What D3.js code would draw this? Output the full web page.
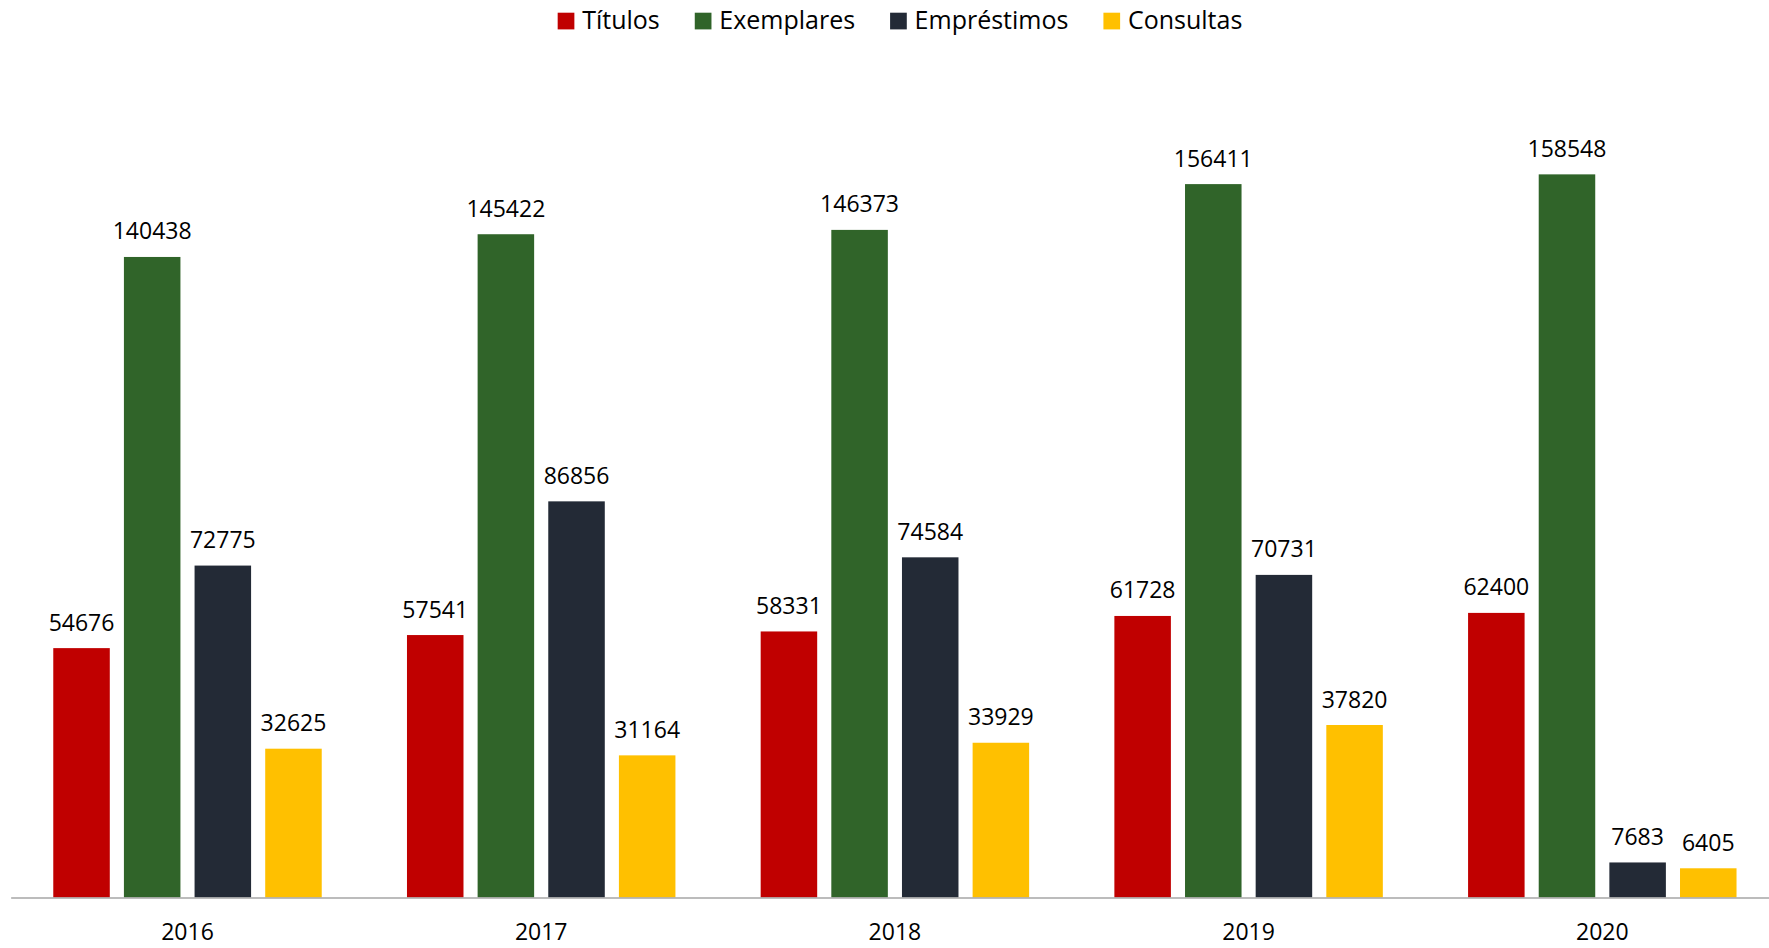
<!DOCTYPE html>
<html>
<head>
<meta charset="utf-8">
<script src="https://cdn.jsdelivr.net/npm/d3@7"></script>
<style>
  html, body { margin: 0; padding: 0; background: #fff; }
  svg { display: block; }
  text { font-family: "Open Sans", "Noto Sans", sans-serif; fill: #000; }
</style>
</head>
<body>
<svg id="chart" width="1769" height="948"></svg>
<script>
const years = ["2016", "2017", "2018", "2019", "2020"];
const seriesNames = ["Títulos", "Exemplares", "Empréstimos", "Consultas"];
const titulos = [54676, 57541, 58331, 61728, 62400];
const exemplares = [140438, 145422, 146373, 156411, 158548];
const emprestimos = [72775, 86856, 74584, 70731, 7683];
const consultas = [32625, 31164, 33929, 37820, 6405];
const colors = ["#C00000", "#306429", "#232A36", "#FFC000"];

const seriesValues = [titulos, exemplares, emprestimos, consultas];
const data = years.map((y, i) => ({
  year: y,
  values: seriesNames.map((s, j) => ({ key: s, idx: j, value: seriesValues[j][i] }))
}));

const svg = d3.select("#chart");
const baseY = 897.5;

const x0 = d3.scaleBand()
  .domain(years)
  .range([10.65, 1779.15])
  .paddingInner(0.241)
  .paddingOuter(0.1205);

const x1 = d3.scaleBand()
  .domain(seriesNames)
  .range([0, x0.bandwidth()])
  .paddingInner(0.2)
  .paddingOuter(0);

const y = d3.scaleLinear()
  .domain([0, 180000])
  .range([baseY, baseY - 180000 * 0.004561]);

const color = d3.scaleOrdinal().domain(seriesNames).range(colors);

// bars
const groups = svg.append("g")
  .selectAll("g")
  .data(data)
  .join("g")
  .attr("transform", d => `translate(${x0(d.year)},0)`);

groups.selectAll("rect")
  .data(d => d.values)
  .join("rect")
  .attr("x", d => x1(d.key))
  .attr("y", d => y(d.value))
  .attr("width", x1.bandwidth())
  .attr("height", d => baseY - y(d.value))
  .attr("fill", d => color(d.key));

groups.selectAll("text.lbl")
  .data(d => d.values)
  .join("text")
  .attr("class", "lbl")
  .attr("x", d => x1(d.key) + x1.bandwidth() / 2)
  .attr("y", d => y(d.value) - 17.5)
  .attr("text-anchor", "middle")
  .style("font-size", "23px")
  .text(d => d.value);

// x axis
const xAxis = svg.append("g")
  .attr("transform", `translate(0,${baseY})`)
  .call(d3.axisBottom(x0).tickSize(0).tickSizeOuter(0));
xAxis.select(".domain").attr("stroke", "#a6a6a6").attr("stroke-width", 1.5);
xAxis.selectAll(".tick text")
  .attr("y", 42.5)
  .attr("dy", null)
  .style("font-size", "23px")
  .style("font-family", "'Open Sans', 'Noto Sans', sans-serif")
  .attr("fill", "#000");

// legend
const legend = svg.append("g");
const items = legend.selectAll("g")
  .data(seriesNames)
  .join("g");
items.append("rect")
  .attr("width", 16.7)
  .attr("height", 16.7)
  .attr("y", 12.7)
  .attr("fill", d => color(d));
items.append("text")
  .attr("x", 24.5)
  .attr("y", 29.3)
  .style("font-size", "25px")
  .text(d => d);
let cx = 0;
const offsets = [];
items.each(function(d) {
  offsets.push(cx);
  const w = d3.select(this).select("text").node().getComputedTextLength();
  cx += 24.5 + w + 35;
});
const totalW = cx - 35;
const startX = 900 - totalW / 2;
items.attr("transform", (d, i) => `translate(${startX + offsets[i]},0)`);
</script>
</body>
</html>
